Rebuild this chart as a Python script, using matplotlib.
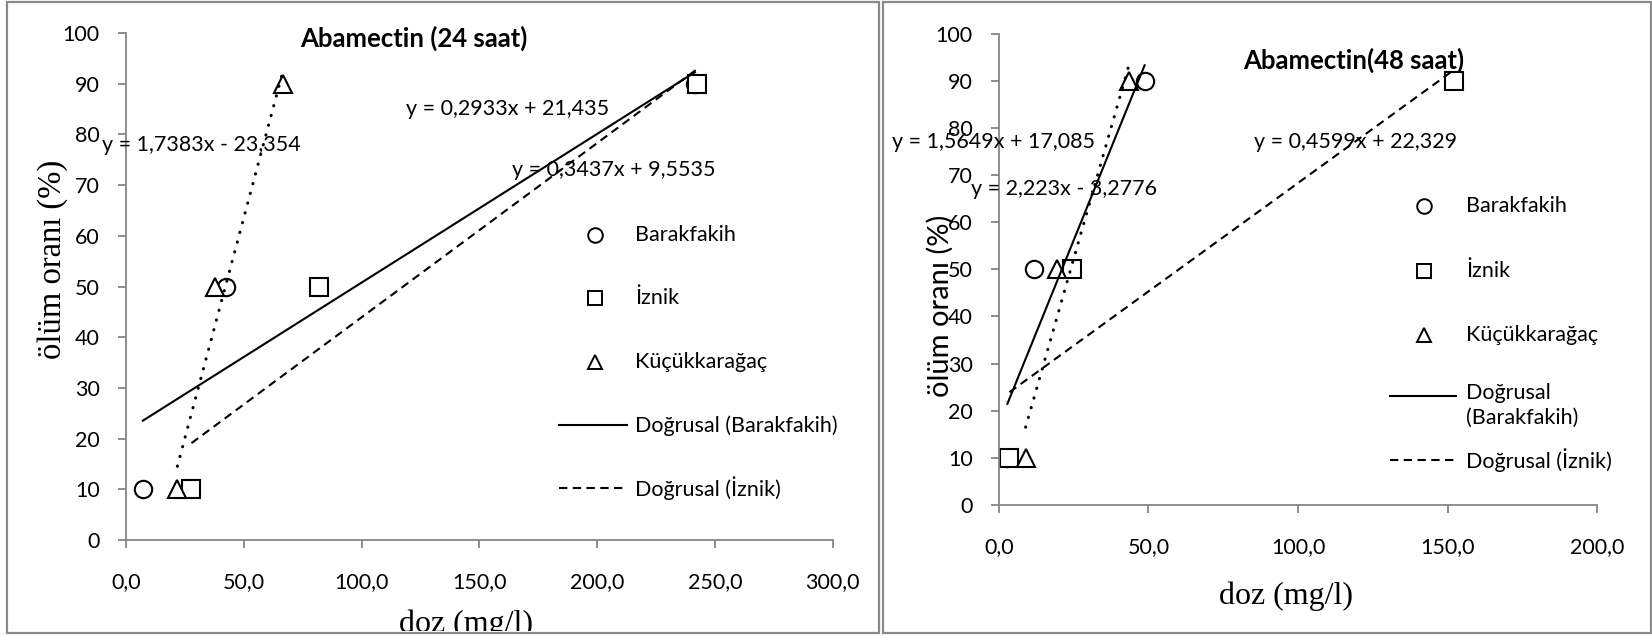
import numpy as np
import matplotlib.pyplot as plt
from matplotlib.patches import Rectangle
from matplotlib.transforms import Bbox, TransformedBbox

plt.rcParams['font.family'] = ['Lato', 'DejaVu Sans']

# --- data ---
y_vals = [10, 50, 90]

# 24 saat: doses (mg/l)
x24_bar = [7.2, 42.6, 241.5]
x24_izn = [27.8, 81.9, 242.4]
x24_kuc = [21.8, 37.7, 66.7]

# 48 saat: doses (mg/l)
x48_bar = [2.8, 11.7, 48.7]
x48_izn = [3.5, 24.5, 152.2]
x48_kuc = [8.9, 19.5, 43.5]

# trendline coefficients as printed on the chart (slope, intercept)
fit24_bar = (0.2933, 21.435)
fit24_izn = (0.3437, 9.5535)
fit24_kuc = (1.7383, -23.354)
fit48_bar = (1.5649, 17.085)
fit48_izn = (0.4599, 22.329)
fit48_kuc = (2.223, -3.2776)

eq24 = ["y = 0,2933x + 21,435", "y = 0,3437x + 9,5535", "y = 1,7383x - 23,354"]
eq48 = ["y = 1,5649x + 17,085", "y = 0,4599x + 22,329", "y = 2,223x - 3,2776"]

labels = ["Barakfakih", "İznik", "Küçükkarağaç", "Doğrusal (Barakfakih)", "Doğrusal (İznik)"]

GRAY = '#868686'
FS = 15.5

fig = plt.figure(figsize=(16.52, 6.36), dpi=100)

# panel frames
for x0, w in [(7, 872), (883, 767.5)]:
    fig.patches.append(Rectangle((x0 / 1652, 3 / 636), w / 1652, 631 / 636,
                                 transform=fig.transFigure, fill=False,
                                 edgecolor='#8a8a8a', lw=1.6))

ax1 = fig.add_axes([0.07627, 0.15094, 0.42779, 0.79717])
ax2 = fig.add_axes([0.60472, 0.20597, 0.36199, 0.74104])

mk = dict(ls='none', mfc='white', mec='black', mew=1.5, ms=12.5, zorder=2)
solid = dict(color='black', lw=1.5, ls='-', zorder=3)
dashed = dict(color='black', lw=1.5, ls=(0, (4, 2.6)), zorder=3)
dotted = dict(color='black', lw=2.2, ls=(0, (0.1, 3.2)), dash_capstyle='round', zorder=3)


def trend(ax, xs, fit, style):
    xx = np.array([min(xs), max(xs)])
    ax.plot(xx, fit[0] * xx + fit[1], **style)


def setup(ax, xmax):
    ax.set_xlim(0, xmax)
    ax.set_ylim(0, 100)
    xt = np.arange(0, xmax + 1, 50)
    ax.set_xticks(xt)
    ax.set_xticklabels([f"{v:.1f}".replace('.', ',') for v in xt])
    ax.set_yticks(range(0, 101, 10))
    for s in ['top', 'right']:
        ax.spines[s].set_visible(False)
    for s in ['left', 'bottom']:
        ax.spines[s].set_color(GRAY)
        ax.spines[s].set_linewidth(1.3)
    ax.tick_params(axis='both', direction='out', length=5.8, width=1.3,
                   color=GRAY, labelsize=FS, labelcolor='black')
    ax.tick_params(axis='y', pad=13)
    ax.tick_params(axis='x', pad=17)


def key(ax, xm, xl0, xl1, xt, rows, texts):
    styles = [('o', None), ('s', None), ('^', None), (None, solid), (None, dashed)]
    for (m, st), yy, t in zip(styles, rows, texts):
        if m:
            ax.plot([xm], [yy], marker=m, ls='none', mfc='white', mec='black',
                    mew=1.4, ms=10.5, clip_on=False)
            ax.text(xt, yy, t, fontsize=FS, va='center', ha='left')
        else:
            ax.plot([xl0, xl1], [yy, yy], clip_on=False, **st)
            ax.text(xt, yy, t, fontsize=FS, va='top' if '\n' in t else 'center',
                    ha='left', linespacing=1.25)


# --- left: 24 saat ---
setup(ax1, 300)
ax1.plot(x24_bar, y_vals, marker='o', **mk)
ax1.plot(x24_izn, y_vals, marker='s', **mk)
ax1.plot(x24_kuc, y_vals, marker='^', **mk)
trend(ax1, x24_bar, fit24_bar, solid)
trend(ax1, x24_izn, fit24_izn, dashed)
trend(ax1, x24_kuc, fit24_kuc, dotted)

for t, (ex, ey) in zip(eq24, [(118.9, 85.1), (163.8, 73.0), (-10.3, 78.0)]):
    ax1.text(ex, ey, t, fontsize=FS, ha='left', va='center', clip_on=False, zorder=4)

ax1.text(122.3, 99.0, "Abamectin (24 saat)", fontsize=18.5, fontweight='bold',
         ha='center', va='center')
key(ax1, 199, 184, 212.5, 216, [60.2, 47.8, 35.1, 22.6, 10.2], labels)

ax1.set_ylabel("ölüm oranı (%)", family='Liberation Serif', fontsize=23.5,
               va='center', ha='center')
ax1.yaxis.set_label_coords(-0.1045, 0.553)
xl = ax1.set_xlabel("doz (mg/l)", family='Liberation Serif', fontsize=23,
                    va='center', ha='center')
ax1.xaxis.set_label_coords(0.481, -0.167)
xl.set_clip_box(TransformedBbox(Bbox([[0.0, 0.0075], [0.53, 1.0]]), fig.transFigure))
xl.set_clip_on(True)

# --- right: 48 saat ---
setup(ax2, 200)
ax2.plot(x48_bar, y_vals, marker='o', **mk)
ax2.plot(x48_izn, y_vals, marker='s', **mk)
ax2.plot(x48_kuc, y_vals, marker='^', **mk)
trend(ax2, x48_bar, fit48_bar, solid)
trend(ax2, x48_izn, fit48_izn, dashed)
trend(ax2, x48_kuc, fit48_kuc, dotted)

for t, (ex, ey) in zip(eq48, [(-35.8, 77.0), (85.2, 77.0), (-9.5, 67.0)]):
    ax2.text(ex, ey, t, fontsize=FS, ha='left', va='center', clip_on=False, zorder=4)

ax2.text(118.7, 94.3, "Abamectin(48 saat)", fontsize=18.5, fontweight='bold',
         ha='center', va='center')
labels48 = labels[:3] + ["Doğrusal\n(Barakfakih)", labels[4]]
key(ax2, 142.2, 130.8, 153, 156.2, [63.4, 49.7, 36.1, 23.2 + 2.6, 9.5], labels48)
# keep the two-line label's handle at the first line
ax2.lines[-2].set_ydata([23.2, 23.2])

ax2.set_ylabel("ölüm oranı (%)", fontsize=21, va='center', ha='center')
ax2.yaxis.set_label_coords(-0.0987, 0.422)
ax2.set_xlabel("doz (mg/l)", family='Liberation Serif', fontsize=23,
               va='center', ha='center')
ax2.xaxis.set_label_coords(0.48, -0.193)

fig.savefig("out.png", dpi=100)
